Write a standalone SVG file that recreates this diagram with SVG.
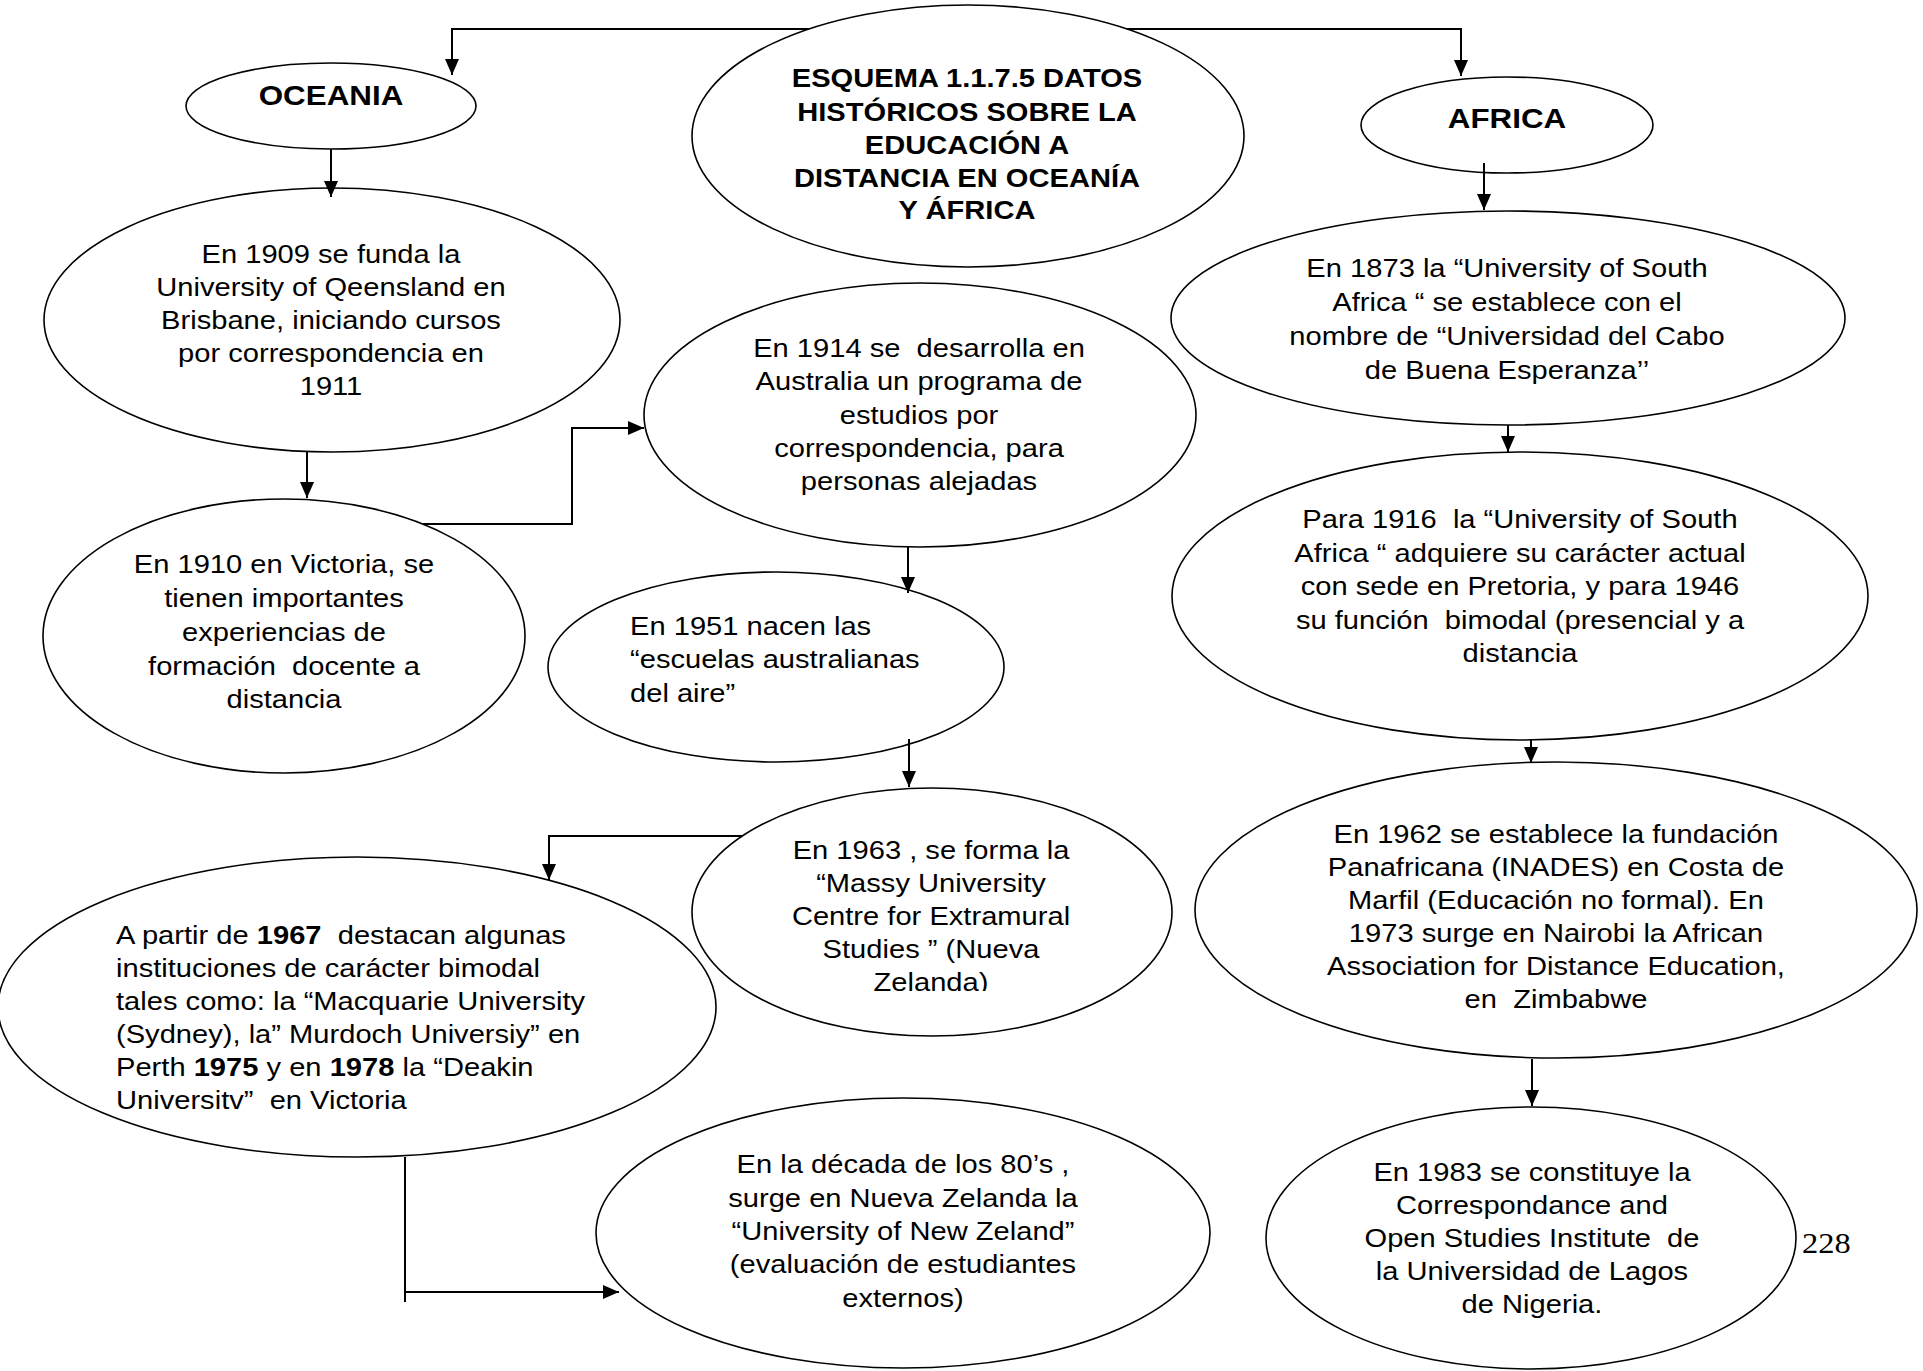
<svg xmlns="http://www.w3.org/2000/svg" width="1923" height="1371" viewBox="0 0 1923 1371">
<style>
.n{fill:#fff;stroke:#000;stroke-width:1.6}
.t{font-family:"Liberation Sans",Arial,sans-serif;font-size:26px;fill:#000;text-anchor:middle;white-space:pre}
.l{text-anchor:start}
.b{font-weight:bold}
.h{font-size:28px;font-weight:bold}
.c{fill:none;stroke:#000;stroke-width:2}
.pg{font-family:"Liberation Serif","Times New Roman",serif;font-size:29px;fill:#000}
</style>
<defs>
<marker id="ar" markerUnits="userSpaceOnUse" markerWidth="16" markerHeight="14" refX="16" refY="7" orient="auto">
<path d="M0,0 L16,7 L0,14 z" fill="#000"/>
</marker>
<clipPath id="clip1963"><rect x="680" y="780" width="500" height="211"/></clipPath>
</defs>
<rect width="1923" height="1371" fill="#fff"/>

<g id="nodes">
<g id="title">
<ellipse class="n" cx="968" cy="136" rx="276" ry="131"/>
<g transform="translate(967 0) scale(1.12 1)">
<text class="t b" x="0" y="87">ESQUEMA 1.1.7.5 DATOS</text>
<text class="t b" x="0" y="121">HISTÓRICOS SOBRE LA</text>
<text class="t b" x="0" y="154">EDUCACIÓN A</text>
<text class="t b" x="0" y="187">DISTANCIA EN OCEANÍA</text>
<text class="t b" x="0" y="219">Y ÁFRICA</text>
</g>
</g>
<g id="oceania">
<ellipse class="n" cx="331" cy="106" rx="145" ry="43"/>
<g transform="translate(331 0) scale(1.12 1)"><text class="t h" x="0" y="105">OCEANIA</text></g>
</g>
<g id="africa">
<ellipse class="n" cx="1507" cy="125" rx="146" ry="48"/>
<g transform="translate(1507 0) scale(1.12 1)"><text class="t h" x="0" y="128">AFRICA</text></g>
</g>
<g id="n1909">
<ellipse class="n" cx="332" cy="320" rx="288" ry="132"/>
<g transform="translate(331 0) scale(1.12 1)">
<text class="t" x="0" y="263">En 1909 se funda la</text>
<text class="t" x="0" y="296">University of Qeensland en</text>
<text class="t" x="0" y="329">Brisbane, iniciando cursos</text>
<text class="t" x="0" y="362">por correspondencia en</text>
<text class="t" x="0" y="395">1911</text>
</g>
</g>
<g id="n1910">
<ellipse class="n" cx="284" cy="636" rx="241" ry="137"/>
<g transform="translate(284 0) scale(1.12 1)">
<text class="t" x="0" y="573">En 1910 en Victoria, se</text>
<text class="t" x="0" y="607">tienen importantes</text>
<text class="t" x="0" y="641">experiencias de</text>
<text class="t" x="0" y="675">formación  docente a</text>
<text class="t" x="0" y="708">distancia</text>
</g>
</g>
<g id="n1914">
<ellipse class="n" cx="920" cy="415" rx="276" ry="132"/>
<g transform="translate(919 0) scale(1.12 1)">
<text class="t" x="0" y="357">En 1914 se  desarrolla en</text>
<text class="t" x="0" y="390">Australia un programa de</text>
<text class="t" x="0" y="424">estudios por</text>
<text class="t" x="0" y="457">correspondencia, para</text>
<text class="t" x="0" y="490">personas alejadas</text>
</g>
</g>
<g id="n1951">
<ellipse class="n" cx="776" cy="667" rx="228" ry="95"/>
<g transform="translate(630 0) scale(1.12 1)">
<text class="t l" x="0" y="635">En 1951 nacen las</text>
<text class="t l" x="0" y="668">“escuelas australianas</text>
<text class="t l" x="0" y="702">del aire”</text>
</g>
</g>
<g id="n1963">
<ellipse class="n" cx="932" cy="912" rx="240" ry="124"/>
<g clip-path="url(#clip1963)">
<g transform="translate(931 0) scale(1.12 1)">
<text class="t" x="0" y="859">En 1963 , se forma la</text>
<text class="t" x="0" y="892">“Massy University</text>
<text class="t" x="0" y="925">Centre for Extramural</text>
<text class="t" x="0" y="958">Studies ” (Nueva</text>
<text class="t" x="0" y="991">Zelanda)</text>
</g>
</g>
</g>
<g id="n1967">
<ellipse class="n" cx="357" cy="1007" rx="359" ry="150"/>
<g transform="translate(116 0) scale(1.12 1)">
<text class="t l" x="0" y="944">A partir de <tspan class="b">1967</tspan>  destacan algunas</text>
<text class="t l" x="0" y="977">instituciones de carácter bimodal</text>
<text class="t l" x="0" y="1010">tales como: la “Macquarie University</text>
<text class="t l" x="0" y="1043">(Sydney), la” Murdoch Universiy” en</text>
<text class="t l" x="0" y="1076">Perth <tspan class="b">1975</tspan> y en <tspan class="b">1978</tspan> la “Deakin</text>
<text class="t l" x="0" y="1109">Universitv”  en Victoria</text>
</g>
</g>
<g id="n80s">
<ellipse class="n" cx="903" cy="1233" rx="307" ry="135"/>
<g transform="translate(903 0) scale(1.12 1)">
<text class="t" x="0" y="1173">En la década de los 80’s ,</text>
<text class="t" x="0" y="1207">surge en Nueva Zelanda la</text>
<text class="t" x="0" y="1240">“University of New Zeland”</text>
<text class="t" x="0" y="1273">(evaluación de estudiantes</text>
<text class="t" x="0" y="1307">externos)</text>
</g>
</g>
<g id="n1873">
<ellipse class="n" cx="1508" cy="318" rx="337" ry="107"/>
<g transform="translate(1507 0) scale(1.12 1)">
<text class="t" x="0" y="277">En 1873 la “University of South</text>
<text class="t" x="0" y="311">Africa “ se establece con el</text>
<text class="t" x="0" y="345">nombre de “Universidad del Cabo</text>
<text class="t" x="0" y="379">de Buena Esperanza’’</text>
</g>
</g>
<g id="n1916">
<ellipse class="n" cx="1520" cy="596" rx="348" ry="144"/>
<g transform="translate(1520 0) scale(1.12 1)">
<text class="t" x="0" y="528">Para 1916  la “University of South</text>
<text class="t" x="0" y="562">Africa “ adquiere su carácter actual</text>
<text class="t" x="0" y="595">con sede en Pretoria, y para 1946</text>
<text class="t" x="0" y="629">su función  bimodal (presencial y a</text>
<text class="t" x="0" y="662">distancia</text>
</g>
</g>
<g id="n1962">
<ellipse class="n" cx="1556" cy="910" rx="361" ry="148"/>
<g transform="translate(1556 0) scale(1.12 1)">
<text class="t" x="0" y="843">En 1962 se establece la fundación</text>
<text class="t" x="0" y="876">Panafricana (INADES) en Costa de</text>
<text class="t" x="0" y="909">Marfil (Educación no formal). En</text>
<text class="t" x="0" y="942">1973 surge en Nairobi la African</text>
<text class="t" x="0" y="975">Association for Distance Education,</text>
<text class="t" x="0" y="1008">en  Zimbabwe</text>
</g>
</g>
<g id="n1983">
<ellipse class="n" cx="1531" cy="1238" rx="265" ry="131"/>
<g transform="translate(1532 0) scale(1.12 1)">
<text class="t" x="0" y="1181">En 1983 se constituye la</text>
<text class="t" x="0" y="1214">Correspondance and</text>
<text class="t" x="0" y="1247">Open Studies Institute  de</text>
<text class="t" x="0" y="1280">la Universidad de Lagos</text>
<text class="t" x="0" y="1313">de Nigeria.</text>
</g>
</g>
</g>

<g id="connectors">
<polyline class="c" points="809,29 452,29 452,75" marker-end="url(#ar)"/>
<polyline class="c" points="1127,29 1461,29 1461,76" marker-end="url(#ar)"/>
<line class="c" x1="331" y1="149" x2="331" y2="197" marker-end="url(#ar)"/>
<line class="c" x1="307" y1="452" x2="307" y2="498" marker-end="url(#ar)"/>
<polyline class="c" points="423,524 572,524 572,428 644,428" marker-end="url(#ar)"/>
<line class="c" x1="908" y1="547" x2="908" y2="593" marker-end="url(#ar)"/>
<line class="c" x1="909" y1="739" x2="909" y2="787" marker-end="url(#ar)"/>
<polyline class="c" points="742,836 549,836 549,880" marker-end="url(#ar)"/>
<line class="c" x1="405" y1="1157" x2="405" y2="1302"/>
<line class="c" x1="405" y1="1292" x2="619" y2="1292" marker-end="url(#ar)"/>
<line class="c" x1="1484" y1="163" x2="1484" y2="210" marker-end="url(#ar)"/>
<line class="c" x1="1508" y1="425" x2="1508" y2="452" marker-end="url(#ar)"/>
<line class="c" x1="1531" y1="740" x2="1531" y2="763" marker-end="url(#ar)"/>
<line class="c" x1="1532" y1="1059" x2="1532" y2="1106" marker-end="url(#ar)"/>
</g>

<g transform="translate(1802 0) scale(1.12 1)"><text class="pg" x="0" y="1253">228</text></g>
</svg>
